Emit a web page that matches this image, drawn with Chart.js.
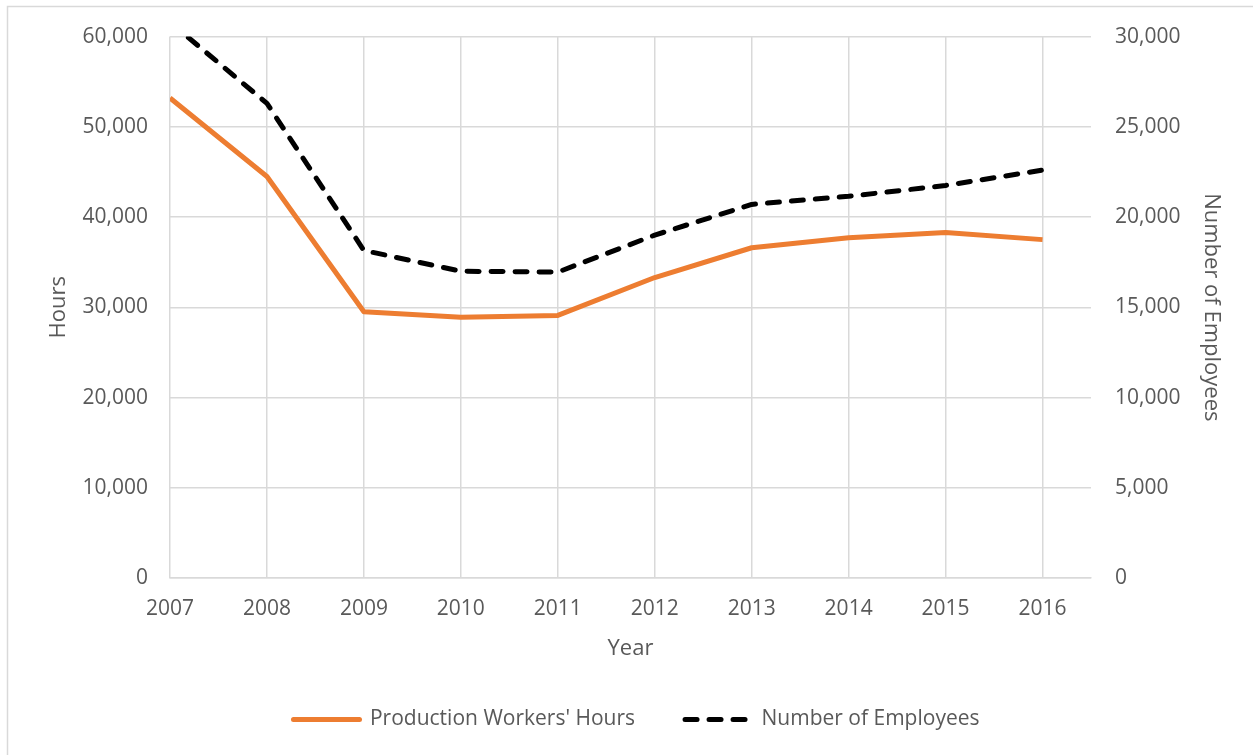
<!DOCTYPE html>
<html>
<head>
<meta charset="utf-8">
<script src="https://cdn.jsdelivr.net/npm/chart.js@4.4.0/dist/chart.umd.min.js"></script>
<style>
  html, body { margin: 0; padding: 0; background: #fff; }
  #wrap { width: 1253px; height: 755px; position: relative; }
</style>
</head>
<body>
<div id="wrap"><canvas id="c" width="1253" height="755"></canvas></div>
<script>
const years = [2007, 2008, 2009, 2010, 2011, 2012, 2013, 2014, 2015, 2016];
const hours = [53200, 44500, 29500, 28900, 29100, 33300, 36600, 37700, 38300, 37500];
const employees = [30800, 26300, 18150, 17000, 16950, 19000, 20700, 21150, 21750, 22600];
const seriesNames = ["Production Workers' Hours", "Number of Employees"];
const axisTitles = { x: "Year", y: "Hours", y1: "Number of Employees" };

const TXT = '#595959';
const GRID = '#d9d9d9';
const FONT = "'Open Sans', 'Liberation Sans', sans-serif";

const framePlugin = {
  id: 'frame',
  beforeDraw(chart) {
    const ctx = chart.ctx;
    ctx.save();
    ctx.fillStyle = '#fff';
    ctx.fillRect(0, 0, chart.width, chart.height);
    ctx.strokeStyle = GRID;
    ctx.lineWidth = 1.5;
    ctx.strokeRect(7.5, 6.5, chart.width + 20, chart.height + 20);
    ctx.restore();
  },
  afterLayout(chart) {
    if (chart.legend) {
      chart.legend.left += 10;
      chart.legend.right += 10;
    }
  }
};

new Chart(document.getElementById('c'), {
  type: 'line',
  data: {
    datasets: [
      {
        label: seriesNames[0],
        data: years.map((y, i) => ({ x: y, y: hours[i] })),
        borderColor: '#ED7D31',
        backgroundColor: '#ED7D31',
        borderWidth: 5,
        borderJoinStyle: 'round',
        pointRadius: 0,
        tension: 0,
        yAxisID: 'y'
      },
      {
        label: seriesNames[1],
        data: years.map((y, i) => ({ x: y, y: employees[i] })),
        borderColor: '#000000',
        backgroundColor: '#000000',
        borderWidth: 5,
        borderDash: [12, 12],
        borderCapStyle: 'round',
        borderJoinStyle: 'round',
        pointRadius: 0,
        tension: 0,
        yAxisID: 'y1'
      }
    ]
  },
  options: {
    responsive: false,
    animation: false,
    events: [],
    layout: { padding: { top: 35, bottom: 15, left: 0, right: 0 } },
    plugins: {
      tooltip: { enabled: false },
      legend: {
        position: 'bottom',
        labels: {
          usePointStyle: true,
          pointStyle: 'line',
          pointStyleWidth: 66,
          padding: 50,
          color: TXT,
          font: { family: FONT, size: 21 },
          generateLabels(chart) {
            const items = Chart.defaults.plugins.legend.labels.generateLabels(chart);
            items.forEach((it, i) => {
              const ds = chart.data.datasets[i];
              it.lineDash = ds.borderDash || [];
              it.lineCap = 'round';
              it.lineWidth = 5;
              it.strokeStyle = ds.borderColor;
              it.fillStyle = ds.borderColor;
              it.pointStyle = 'line';
            });
            return items;
          }
        }
      }
    },
    scales: {
      x: {
        type: 'linear',
        min: 2007,
        max: 2016.5,
        afterFit(s) { s.height = 81; },
        ticks: {
          stepSize: 1,
          includeBounds: false,
          autoSkip: false,
          maxRotation: 0,
          padding: 18,
          color: TXT,
          font: { family: FONT, size: 21 },
          callback: v => String(v)
        },
        grid: { color: GRID, lineWidth: 1.5, drawTicks: false },
        border: { display: true, color: GRID, width: 1.5 },
        title: {
          display: true, text: axisTitles.x, color: TXT,
          font: { family: FONT, size: 22 },
          padding: { top: 0, bottom: -3 }
        }
      },
      y: {
        position: 'left',
        min: 0, max: 60000,
        afterFit(s) { s.width = 170; },
        ticks: {
          stepSize: 10000, padding: 22, color: TXT,
          font: { family: FONT, size: 21 },
          callback: v => v.toLocaleString('en-US')
        },
        grid: { color: GRID, lineWidth: 1.5, drawTicks: false },
        border: { display: false },
        title: {
          display: true, text: axisTitles.y, color: TXT,
          font: { family: FONT, size: 22 },
          padding: { top: 46, bottom: 0 }
        }
      },
      y1: {
        position: 'right',
        min: 0, max: 30000,
        afterFit(s) { s.width = 162; },
        ticks: {
          stepSize: 5000, padding: 24, color: TXT,
          font: { family: FONT, size: 21 },
          callback: v => v.toLocaleString('en-US')
        },
        grid: { display: false, drawTicks: false },
        border: { display: false },
        title: {
          display: true, text: axisTitles.y1, color: TXT,
          font: { family: FONT, size: 22 },
          padding: { top: 29, bottom: 0 }
        }
      }
    }
  },
  plugins: [framePlugin]
});
</script>
</body>
</html>
